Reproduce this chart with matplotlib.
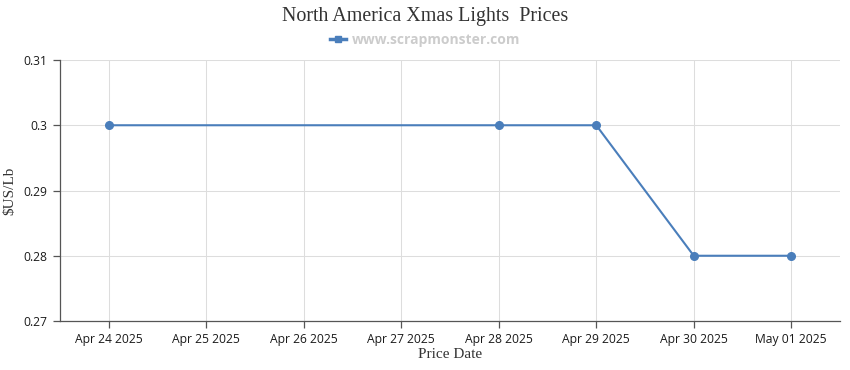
import matplotlib
matplotlib.use("Agg")
import matplotlib.pyplot as plt
from matplotlib.lines import Line2D

categories = ["Apr 24 2025", "Apr 25 2025", "Apr 26 2025", "Apr 27 2025",
              "Apr 28 2025", "Apr 29 2025", "Apr 30 2025", "May 01 2025"]
price_dates = ["Apr 24 2025", "Apr 28 2025", "Apr 29 2025", "Apr 30 2025", "May 01 2025"]
prices = [0.30, 0.30, 0.30, 0.28, 0.28]
y_ticks = [0.27, 0.28, 0.29, 0.30, 0.31]
y_labels = ["0.27", "0.28", "0.29", "0.3", "0.31"]

line_color = "#4a7ebb"
sans = "Open Sans"
serif = "Liberation Serif"

fig = plt.figure(figsize=(8.5, 3.7), dpi=100)
ax = fig.add_axes([60 / 850, 49 / 370, 780 / 850, 261 / 370])

x = [categories.index(d) for d in price_dates]
ax.plot(x, prices, color=line_color, lw=1.5, marker="o", ms=5.5, zorder=3)

ax.set_xlim(-0.5, len(categories) - 0.5)
ax.set_ylim(0.27, 0.31)
ax.set_xticks(range(len(categories)))
ax.set_xticklabels(categories, fontfamily=sans, fontsize=8.7, color="#1a1a1a")
ax.set_yticks(y_ticks)
ax.set_yticklabels(y_labels, fontfamily=sans, fontsize=8.7, color="#1a1a1a")

ax.grid(True, color="#dddddd", lw=0.75)
ax.set_axisbelow(True)
for s in ["top", "right"]:
    ax.spines[s].set_visible(False)
for s in ["left", "bottom"]:
    ax.spines[s].set_color("#555555")
    ax.spines[s].set_linewidth(0.9)
ax.tick_params(axis="both", color="#555555", length=5, width=0.9, pad=4)

ax.set_xlabel("Price Date", fontfamily=serif, fontsize=11, color="#333333", labelpad=1)
ax.set_ylabel("$US/Lb", fontfamily=serif, fontsize=11, color="#333333", labelpad=5)

fig.text(0.5, 1 - 16 / 370, "North America Xmas Lights  Prices", ha="center", va="center",
         fontfamily=serif, fontsize=14.4, color="#333333")

handle = Line2D([], [], color=line_color, lw=2.5, marker="s", ms=5)
fig.legend([handle], ["www.scrapmonster.com"], loc="center", bbox_to_anchor=(0.5, 1 - 40 / 370),
           frameon=False, handlelength=1.2, handletextpad=0.4,
           prop={"family": sans, "weight": "bold", "size": 10}, labelcolor="#cccccc")

fig.savefig("out.png", dpi=100)
